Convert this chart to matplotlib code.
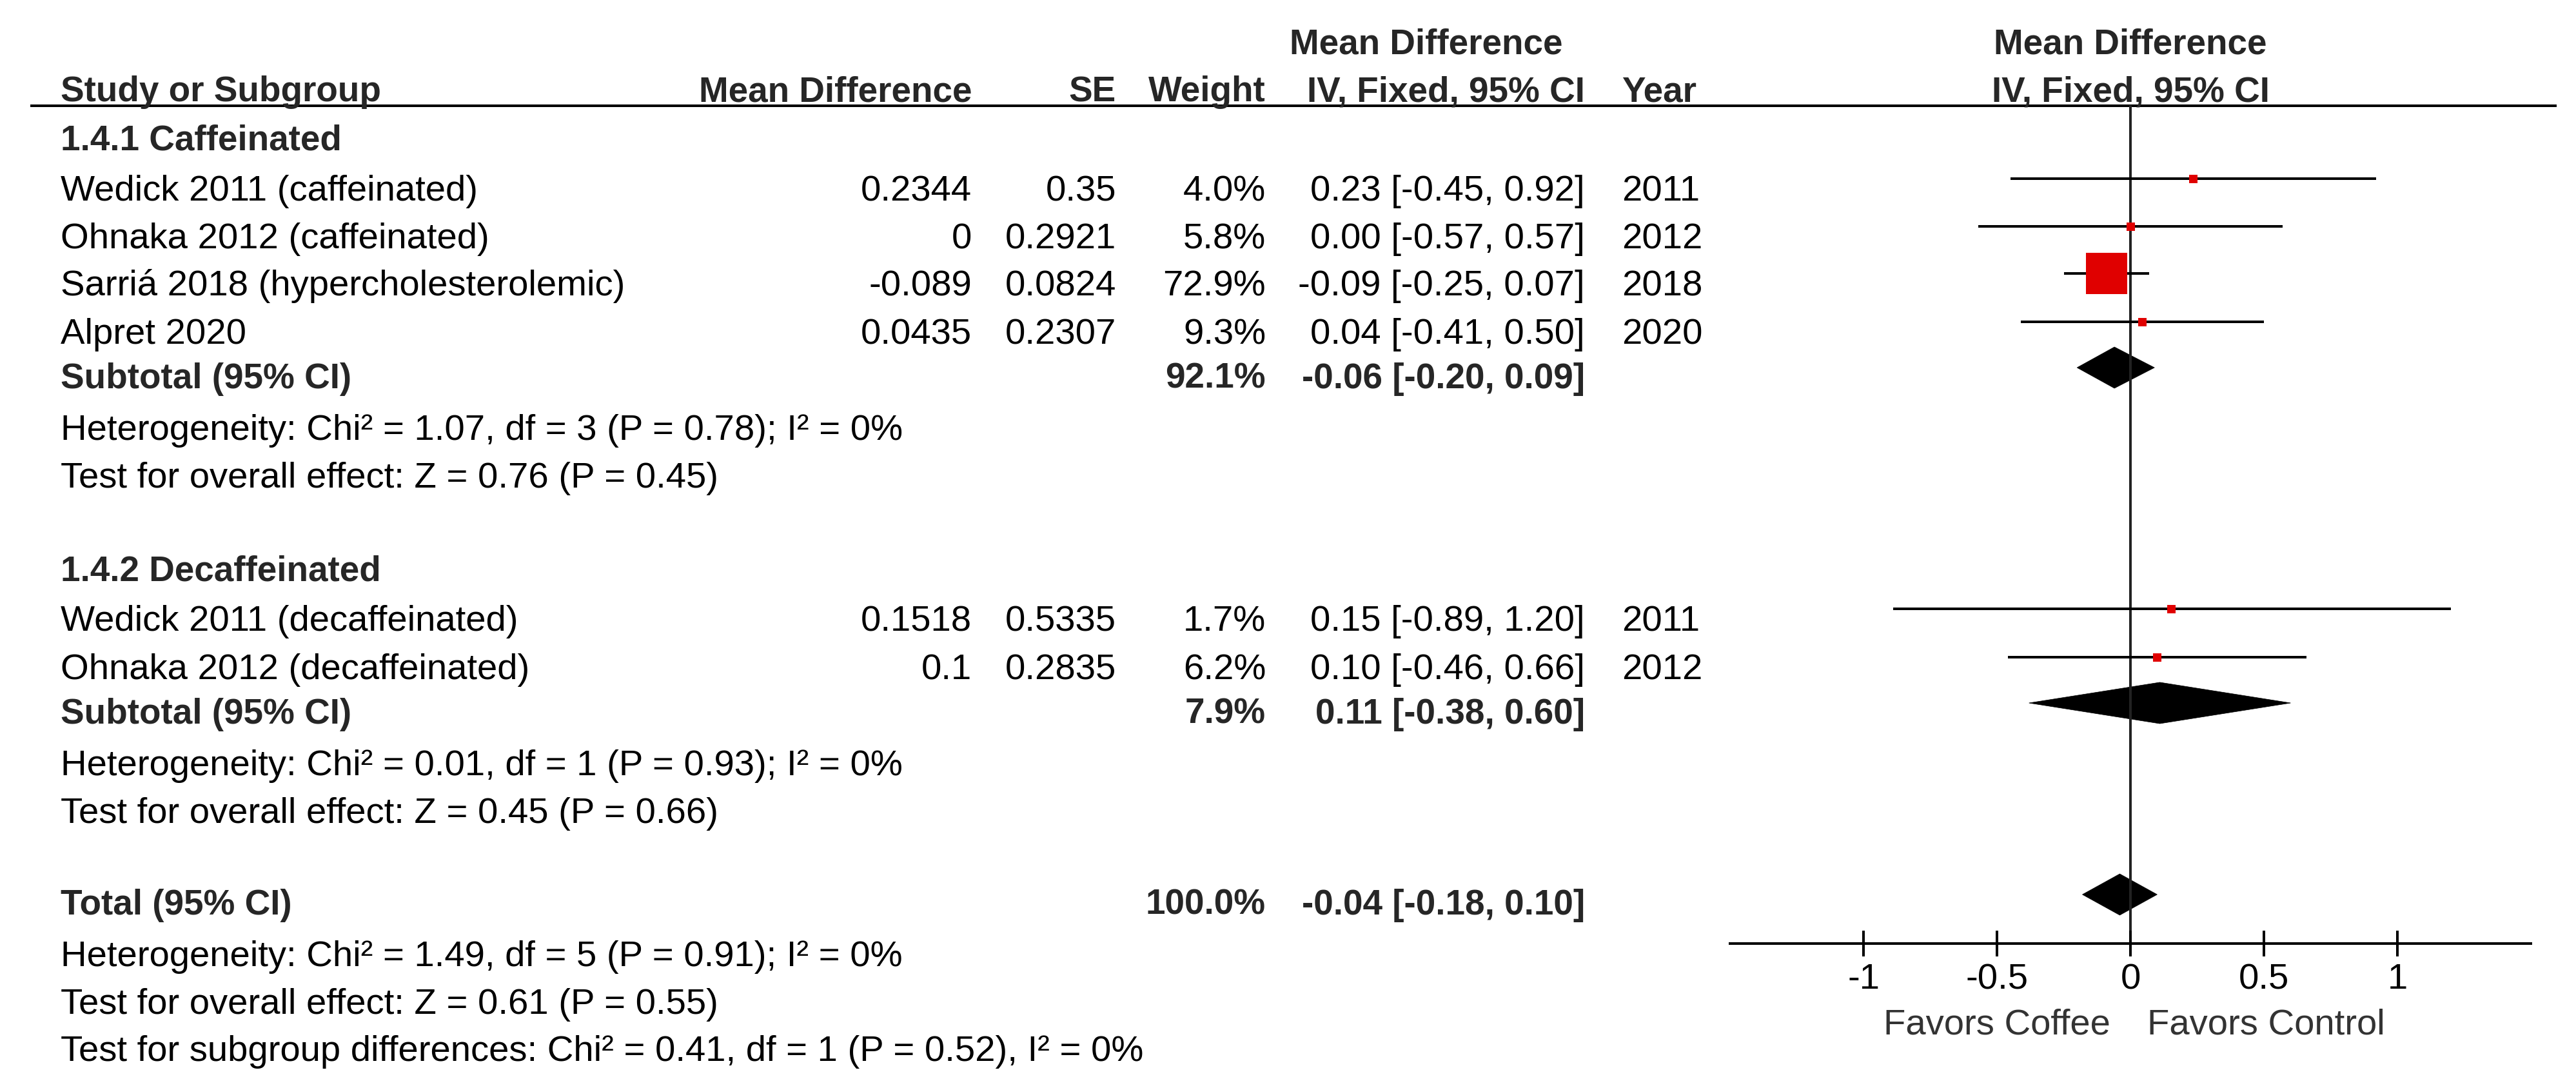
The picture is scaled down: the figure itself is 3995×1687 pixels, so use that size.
import matplotlib
matplotlib.use('Agg')
import matplotlib.pyplot as plt
from matplotlib.patches import Polygon, Rectangle

plt.rcParams['font.family'] = ['Liberation Sans', 'DejaVu Sans']

# ---- data ----
caf_studies = ['Wedick 2011 (caffeinated)', 'Ohnaka 2012 (caffeinated)',
               'Sarriá 2018 (hypercholesterolemic)', 'Alpret 2020']
caf_md = [0.2344, 0, -0.089, 0.0435]
caf_se = [0.35, 0.2921, 0.0824, 0.2307]
caf_weight = [4.0, 5.8, 72.9, 9.3]
caf_est = [0.23, 0.00, -0.09, 0.04]
caf_lo = [-0.45, -0.57, -0.25, -0.41]
caf_hi = [0.92, 0.57, 0.07, 0.50]
caf_year = [2011, 2012, 2018, 2020]
caf_sub = (92.1, -0.06, -0.20, 0.09)
caf_het = 'Heterogeneity: Chi² = 1.07, df = 3 (P = 0.78); I² = 0%'
caf_test = 'Test for overall effect: Z = 0.76 (P = 0.45)'

dec_studies = ['Wedick 2011 (decaffeinated)', 'Ohnaka 2012 (decaffeinated)']
dec_md = [0.1518, 0.1]
dec_se = [0.5335, 0.2835]
dec_weight = [1.7, 6.2]
dec_est = [0.15, 0.10]
dec_lo = [-0.89, -0.46]
dec_hi = [1.20, 0.66]
dec_year = [2011, 2012]
dec_sub = (7.9, 0.11, -0.38, 0.60)
dec_het = 'Heterogeneity: Chi² = 0.01, df = 1 (P = 0.93); I² = 0%'
dec_test = 'Test for overall effect: Z = 0.45 (P = 0.66)'

total = (100.0, -0.04, -0.18, 0.10)
total_het = 'Heterogeneity: Chi² = 1.49, df = 5 (P = 0.91); I² = 0%'
total_test = 'Test for overall effect: Z = 0.61 (P = 0.55)'
subgroup_test = 'Test for subgroup differences: Chi² = 0.41, df = 1 (P = 0.52), I² = 0%'

tick_vals = [-1, -0.5, 0, 0.5, 1]
tick_labels = ['-1', '-0.5', '0', '0.5', '1']

# ---- layout (pixels) ----
W, H, DPI = 3995, 1687, 100
PT = 72 / DPI
X_STUDY, X_MD, X_SE, X_W, X_CI, X_YEAR = 94, 1507, 1731, 1963, 2458, 2515
FS, FSB = 40.5, 39.5
BOLD_C = '#262626'

fig = plt.figure(figsize=(W / DPI, H / DPI), dpi=DPI)
ax = fig.add_axes([0, 0, 1, 1])
ax.set_xlim(0, W)
ax.set_ylim(H, 0)
ax.axis('off')

fp = fig.add_axes([2683 / W, 0, 1242 / W, 1])
fp.set_xlim(-1.5, 1.5)
fp.set_ylim(H, 0)
fp.patch.set_alpha(0)


def txt(x, y, s, ha='left', bold=False, color=None, **kw):
    return ax.text(x, y, s, ha=ha, va='baseline', fontsize=FSB if bold else FS,
                   fontweight='bold' if bold else 'normal',
                   color=color or (BOLD_C if bold else 'black'), **kw)


# headers
txt(2212, 83, 'Mean Difference', ha='center', bold=True)
txt(3304, 83, 'Mean Difference', ha='center', bold=True)
txt(X_STUDY, 157, 'Study or Subgroup', bold=True)
txt(X_MD, 157, 'Mean Difference', ha='right', bold=True)
txt(X_SE, 157, 'SE', ha='right', bold=True)
txt(X_W, 157, 'Weight', ha='right', bold=True)
txt(X_CI, 157, 'IV, Fixed, 95% CI', ha='right', bold=True)
txt(X_YEAR, 157, 'Year', bold=True)
txt(3304, 157, 'IV, Fixed, 95% CI', ha='center', bold=True)
ax.plot([47, 3965], [164, 164], color='black', lw=4 * PT, solid_capstyle='butt')


def ci_text(est, lo, hi):
    return f'{est:.2f} [{lo:.2f}, {hi:.2f}]'


def diamond(y, est, lo, hi):
    fp.add_patch(Polygon([(lo, y), (est, y - 32), (hi, y), (est, y + 32)],
                         closed=True, facecolor='black', edgecolor='black', lw=0.5))


def group(title, y_title, studies, md, se, weight, est, lo, hi, year, ys,
          sub, y_sub, het, y_het, test, y_test):
    txt(X_STUDY, y_title, title, bold=True)
    for i, name in enumerate(studies):
        y = ys[i]
        txt(X_STUDY, y, name)
        txt(X_MD, y, f'{md[i]:g}', ha='right')
        txt(X_SE, y, f'{se[i]:g}', ha='right')
        txt(X_W, y, f'{weight[i]:.1f}%', ha='right')
        txt(X_CI, y, ci_text(est[i], lo[i], hi[i]), ha='right')
        txt(X_YEAR, y, str(year[i]))
        ym = y - 34
        fp.plot([lo[i], hi[i]], [ym, ym], color='black', lw=4 * PT,
                solid_capstyle='butt', zorder=2)
        side = max(13, 64 * weight[i] / 72.9) * PT
        fp.scatter([md[i]], [ym], marker='s', s=side ** 2, color='#e00000',
                   linewidths=0, zorder=3)
    txt(X_STUDY, y_sub, 'Subtotal (95% CI)', bold=True)
    txt(X_W, y_sub, f'{sub[0]:.1f}%', ha='right', bold=True)
    txt(X_CI, y_sub, ci_text(*sub[1:]), ha='right', bold=True)
    diamond(y_sub - 32, sub[1], sub[2], sub[3])
    txt(X_STUDY, y_het, het)
    txt(X_STUDY, y_test, test)


group('1.4.1 Caffeinated', 232, caf_studies, caf_md, caf_se, caf_weight, caf_est,
      caf_lo, caf_hi, caf_year, [311, 385, 458, 533],
      caf_sub, 602, caf_het, 682, caf_test, 756)
group('1.4.2 Decaffeinated', 900, dec_studies, dec_md, dec_se, dec_weight, dec_est,
      dec_lo, dec_hi, dec_year, [978, 1053],
      dec_sub, 1122, dec_het, 1202, dec_test, 1276)

txt(X_STUDY, 1418, 'Total (95% CI)', bold=True)
txt(X_W, 1418, f'{total[0]:.1f}%', ha='right', bold=True)
txt(X_CI, 1418, ci_text(*total[1:]), ha='right', bold=True)
diamond(1387, total[1], total[2], total[3])
txt(X_STUDY, 1498, total_het)
txt(X_STUDY, 1572, total_test)
last = txt(X_STUDY, 1645, subgroup_test)
last.set_clip_path(Rectangle((0, 0), W, 1649, transform=ax.transData))

# forest axis
fp.plot([0, 0], [165, 1463], color='#222222', lw=4 * PT, zorder=1)
for s in ['top', 'left', 'right']:
    fp.spines[s].set_visible(False)
fp.spines['bottom'].set_position(('data', 1463))
fp.spines['bottom'].set_linewidth(4 * PT)
fp.set_yticks([])
fp.set_xticks(tick_vals)
fp.set_xticklabels(tick_labels)
fp.tick_params(axis='x', direction='inout', length=40 * PT, width=4 * PT,
               pad=10 * PT, labelsize=FS)

txt(3273, 1604, 'Favors Coffee', ha='right', color='#333333')
txt(3330, 1604, 'Favors Control', color='#333333')

fig.savefig('out.png', dpi=DPI)
